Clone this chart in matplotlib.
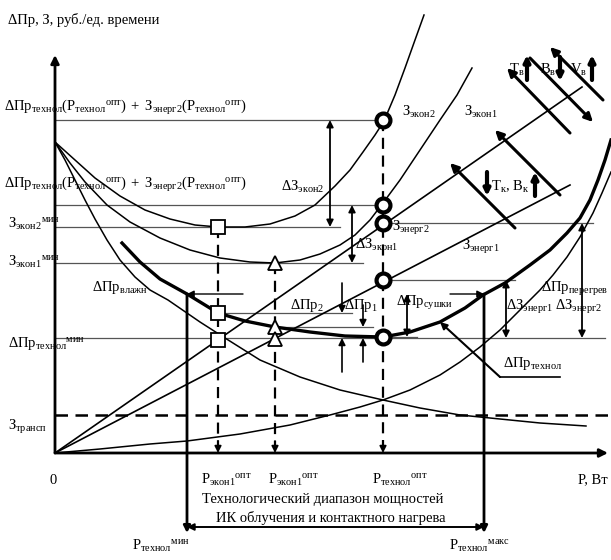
import matplotlib
matplotlib.use("Agg")
import matplotlib.pyplot as plt
import numpy as np

plt.rcParams['font.family'] = ['Liberation Serif', 'DejaVu Serif']
plt.rcParams['mathtext.fontset'] = 'custom'
plt.rcParams['mathtext.rm'] = 'Liberation Serif'
plt.rcParams['mathtext.it'] = 'Liberation Serif:italic'
plt.rcParams['mathtext.bf'] = 'Liberation Serif:bold'

# ---------------- data (power units on x, cost units on y; origin at 0) -------------
zekon2_x = [0, 20, 40, 65, 90, 115, 140, 163, 190, 215, 240, 260, 280, 295, 308, 320, 329, 340, 350, 360, 369]
zekon2_y = [311, 293, 275, 257, 243, 234, 228, 226, 226, 229, 237, 248, 267, 283, 301, 318, 332, 358, 385, 413, 438]

zekon1_x = [0, 15, 30, 52, 75, 105, 135, 165, 195, 220, 245, 265, 285, 300, 315, 328, 345, 365, 385, 402, 417]
zekon1_y = [311, 290, 271, 248, 231, 215, 203, 195, 191, 190, 193, 199, 208, 218, 233, 250, 273, 303, 333, 358, 385]

vlazhn_x = [0, 10, 20, 30, 40, 52, 65, 80, 95, 113, 145, 170, 205, 245, 285, 328, 365, 405, 445, 485, 531]
vlazhn_y = [311, 293, 273, 253, 234, 213, 193, 176, 163, 153, 131, 115, 93, 76, 63, 53, 45, 38, 34, 30, 27]

tehnol_x = [67, 85, 105, 132, 150, 163, 190, 220, 255, 290, 328, 355, 385, 410, 428, 450, 475, 495, 512, 525, 535, 543, 550, 556]
tehnol_y = [210, 191, 174, 159, 148, 140, 132, 126, 121, 117, 116, 121, 131, 145, 158, 170, 188, 203, 220, 235, 253, 273, 293, 313]

peregrev_x = [0, 45, 95, 132, 185, 235, 275, 305, 328, 355, 385, 405, 425, 445, 465, 485, 498, 512, 525, 538, 547, 556]
peregrev_y = [0, 4, 9, 12, 19, 28, 38, 46, 53, 63, 78, 91, 106, 123, 143, 163, 178, 196, 216, 240, 260, 281]

energ2_x = [0, 527]
energ2_y = [0, 366]
energ1_x = [0, 515]
energ1_y = [0, 268]

z_transp = 38
p_opt = [163, 220, 328]          # P_экон2, P_экон1, P_технол optimum
p_range = [132, 429]             # P_технол min / max
square_y = [226, 140, 113]
triangle_y = [190, 126, 114]
circle_y = [333, 248, 230, 173, 116]
tehnol_min = 115

# ---------------- figure ---------------------------------------------------------------
W, H = 611, 560
OX, OY = 55, 453
fig = plt.figure(figsize=(W / 100, H / 100), dpi=100)
ax = fig.add_axes([0, 0, 1, 1])
ax.set_xlim(-OX, W - OX)
ax.set_ylim(OY - H, OY)
ax.axis('off')

K = 'black'

def px(x, y):
    return x - OX, OY - y

def arrow(p0, p1, style='-|>', lw=1.2, ms=10):
    ax.annotate('', xy=p1, xytext=p0,
                arrowprops=dict(arrowstyle=style, lw=lw, color=K, mutation_scale=ms,
                                shrinkA=0, shrinkB=0))

def hline(y, x0, x1, lw=0.9, color='#555555'):
    ax.plot([x0, x1], [y, y], color=color, lw=lw)

def txt(x, y, s, size=10.5, ha='left'):
    X, Y = px(x, y)
    ax.text(X, Y, s, fontsize=size, ha=ha, va='center', color=K)

def m(base, sub=None, sup=None):
    b = base.replace(' ', r'\ ')
    s = r'\mathrm{' + b + '}'
    if sub:
        s += r'_{\mathrm{' + sub + '}}'
    if sup:
        s += r'{}^{\mathrm{' + sup + '}}'
    return s

def M(base, sub=None, sup=None):
    return '$' + m(base, sub, sup) + '$'

# axes
arrow((0, 0), (0, 398), lw=2, ms=12)
arrow((0, 0), (553, 0), lw=2, ms=12)

# reference horizontal lines
hline(circle_y[0], 0, p_opt[2])
hline(circle_y[1], 0, p_opt[2])
hline(square_y[0], 0, 285)
hline(triangle_y[0], 0, 308)
hline(tehnol_min, 0, 550)
hline(circle_y[3], p_opt[2], 460)
hline(circle_y[2], p_opt[2], 538)
hline(square_y[1], p_opt[0], 297)
hline(triangle_y[1], p_opt[1], 318)
hline(circle_y[4], p_opt[2], 362)

# transport cost
ax.plot([0, 556], [z_transp, z_transp], color=K, lw=1.8, dashes=(5, 3))

# curves
ax.plot(zekon2_x, zekon2_y, color=K, lw=1.1)
ax.plot(zekon1_x, zekon1_y, color=K, lw=1.1)
ax.plot(vlazhn_x, vlazhn_y, color=K, lw=1.1)
ax.plot(peregrev_x, peregrev_y, color=K, lw=1.1)
ax.plot(energ2_x, energ2_y, color=K, lw=1.2)
ax.plot(energ1_x, energ1_y, color=K, lw=1.2)
ax.plot(tehnol_x, tehnol_y, color=K, lw=2.4)

# dashed verticals at optimum powers
for xp, ytop in zip(p_opt, [square_y[0], triangle_y[0], circle_y[0]]):
    ax.plot([xp, xp], [ytop, 6], color=K, lw=1.6, dashes=(5, 3))
    arrow((xp, 12), (xp, 0), lw=1.2, ms=10)

# technological power range
for xp in p_range:
    arrow((xp, 159), (xp, -80), lw=2, ms=10)
arrow((p_range[0], -74), (p_range[1], -74), style='<|-|>', lw=1.4, ms=10)
arrow((188, 159), (p_range[0], 159), lw=1.0, ms=10)
arrow((395, 159), (p_range[1], 159), lw=1.0, ms=10)

# difference arrows
arrow((275, 333), (275, 226), style='<|-|>', lw=1.3)
arrow((297, 248), (297, 190), style='<|-|>', lw=1.3)
arrow((451, 173), (451, 115), style='<|-|>', lw=1.3)
arrow((527, 230), (527, 115), style='<|-|>', lw=1.3)
arrow((352, 159), (352, 116), style='<|-|>', lw=1.3)
arrow((287, 170), (287, 140), lw=1.2)
arrow((287, 81), (287, 115), lw=1.2)
arrow((308, 148), (308, 126), lw=1.2)
arrow((308, 91), (308, 115), lw=1.2)

# pointer to ΔПр_технол
ax.plot([505, 445], [76, 76], color=K, lw=1.2)
arrow((445, 76), (385, 131), lw=1.5)

# influence arrows (top right)
arrow((460, 225), (395, 290), lw=2.2, ms=12)
arrow((505, 258), (440, 323), lw=2.2, ms=12)
arrow((515, 320), (452, 385), lw=2.2, ms=12)
arrow((475, 395), (538, 331), lw=2.2, ms=12)
arrow((548, 353), (495, 406), lw=2.2, ms=12)
arrow((472, 373), (472, 398), lw=3, ms=9)
arrow((505, 396), (505, 372), lw=3, ms=9)
arrow((537, 373), (537, 398), lw=3, ms=9)
arrow((432, 281), (432, 257), lw=3, ms=9)
arrow((480, 257), (480, 281), lw=3, ms=9)

# markers
ax.plot([p_opt[0]] * 3, square_y, ls='none', marker='s', ms=10, mfc='white', mec=K, mew=1.3)
ax.plot([p_opt[1]] * 3, triangle_y, ls='none', marker='^', ms=10, mfc='white', mec=K, mew=1.3)
ax.plot([p_opt[2]] * 5, circle_y, ls='none', marker='o', ms=10, mfc='white', mec=K, mew=3)

# ---------------- text --------------------------------------------------------------------
sum_label = ('$' + m('ΔПр', 'технол') + '(' + m('Р', 'технол', 'опт') + r')\ +\ '
             + m('З', 'энерг2') + '(' + m('Р', 'технол', 'опт') + ')$')
txt(8, 20, 'ΔПр, З, руб./ед. времени')
txt(4, 108, sum_label)
txt(4, 185, sum_label)
txt(281, 187, M('ΔЗ', 'экон2'))
txt(8, 224, M('З', 'экон2', 'мин'))
txt(8, 262, M('З', 'экон1', 'мин'))
txt(92, 288, M('ΔПр', 'влажн'))
txt(8, 343, M('ΔПр', 'технол', 'мин'))
txt(8, 427, M('З', 'трансп'))
txt(402, 112, M('З', 'экон2'))
txt(464, 112, M('З', 'экон1'))
txt(392, 228, M('З', 'энерг2'))
txt(462, 247, M('З', 'энерг1'))
txt(355, 245, M('ΔЗ', 'экон1'))
txt(290, 305, M('ΔПр', '2'))
txt(344, 305, M('ΔПр', '1'))
txt(396, 303, M('ΔПр', 'сушки'))
txt(506, 307, M('ΔЗ', 'энерг1'))
txt(555, 307, M('ΔЗ', 'энерг2'))
txt(541, 289, M('ΔПр', 'перегрев'))
txt(503, 363, M('ΔПр', 'технол'))
txt(509, 70, M('Т', 'в'))
txt(540, 70, M('В', 'в'))
txt(570, 70, M('V', 'в'))
txt(491, 187, M('Т', 'к') + ', ' + M('В', 'к'))
txt(50, 480, '0')
txt(201, 480, M('Р', 'экон1', 'опт'))
txt(268, 480, M('Р', 'экон1', 'опт'))
txt(372, 480, M('Р', 'технол', 'опт'))
txt(578, 480, 'Р, Вт')
txt(323, 500, 'Технологический диапазон мощностей', ha='center')
txt(331, 518, 'ИК облучения и контактного нагрева', ha='center')
txt(132, 546, M('Р', 'технол', 'мин'))
txt(449, 546, M('Р', 'технол', 'макс'))

fig.savefig('out.png', dpi=100, facecolor='white')
